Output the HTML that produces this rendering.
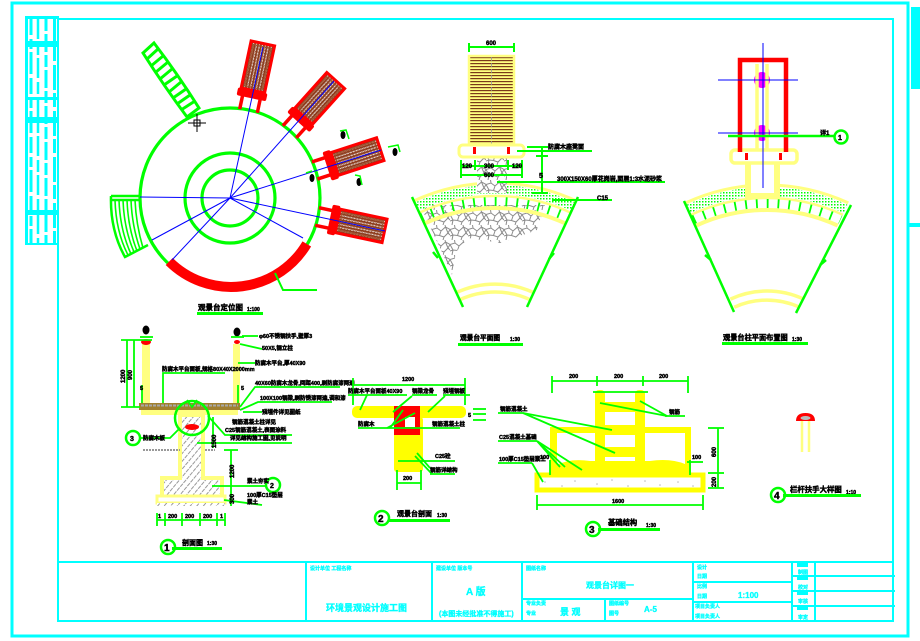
<!DOCTYPE html>
<html><head><meta charset="utf-8"><style>
html,body{margin:0;padding:0;background:#fff;}
svg{display:block;}
text{font-family:"Liberation Sans","Noto Sans CJK SC",sans-serif;font-weight:bold;}
.k{stroke:#000;stroke-width:0.45;}
.c{stroke:#0ff;stroke-width:0.3;}
</style></head><body>
<svg width="920" height="641" viewBox="0 0 920 641" xmlns="http://www.w3.org/2000/svg">
<defs>
 <pattern id="dots" width="3" height="3" patternUnits="userSpaceOnUse"><rect width="3" height="3" fill="#fff"/><rect width="1.5" height="1.5" fill="#0f0"/></pattern>
 <pattern id="hatch" width="5" height="5" patternUnits="userSpaceOnUse" patternTransform="rotate(40)"><rect width="5" height="5" fill="#fff"/><line x1="1" y1="0" x2="1" y2="5" stroke="#999" stroke-width="1" stroke-dasharray="2 1"/></pattern>
 <pattern id="bench" width="3" height="3" patternUnits="userSpaceOnUse"><rect width="3" height="3" fill="#fff"/><path d="M0 0.6 L0.75 2.3 L1.5 0.6 L2.25 2.3 L3 0.6" stroke="#8b3a1a" stroke-width="1.1" fill="none"/></pattern>
 <pattern id="stone" width="18" height="15" patternUnits="userSpaceOnUse"><rect width="18" height="15" fill="#fff"/><path d="M0 4.5 L5 3 L9 6 L13.5 2 L18 4.5 M5 3 L4.5 0 M13.5 2 L13 0 M9 6 L7.5 10.5 L3 10 L0 11 M7.5 10.5 L12 12 L16 8 L18 10 M13.5 2 L16 8 M3 10 L2 15 M12 12 L11 15 M0 4.5 L3 10 M18 4.5 L16 8" stroke="#8c8c8c" stroke-width="1" fill="none"/></pattern>
 <pattern id="brown" width="3" height="3" patternUnits="userSpaceOnUse"><rect width="3" height="3" fill="#ffff80"/><rect y="0" width="3" height="1.2" fill="#7a3a1a"/></pattern>
 <g id="bn">
  <line x1="89" y1="-9" x2="106" y2="-9" stroke="#f00" stroke-width="3.5"/>
  <line x1="89" y1="9" x2="106" y2="9" stroke="#f00" stroke-width="3.5"/>
  <rect x="102" y="-15" width="8" height="30" rx="2" fill="#f00"/>
  <rect x="110" y="-12" width="48" height="24" fill="url(#bench)" stroke="#f00" stroke-width="3"/>
  <rect x="113" y="-9" width="42" height="18" fill="none" stroke="#a0522d" stroke-width="1"/>
 </g>
</defs>
<rect width="920" height="641" fill="#fff"/>

<!-- ===== FRAME ===== -->
<g stroke="#0ff" fill="none">
 <rect x="12" y="3" width="896" height="633" stroke-width="3"/>
 <rect x="58" y="19" width="835" height="602" stroke-width="2"/>
</g>
<rect x="911" y="7" width="9" height="82" fill="#0ff"/>
<rect x="909" y="223" width="11" height="4" fill="#0ff"/>
<!-- left strip -->
<g fill="#0ff">
 <rect x="25" y="16" width="34" height="3"/>
 <rect x="25" y="16" width="3" height="229"/>
 <rect x="25" y="243" width="34" height="2"/>
 <rect x="28" y="41" width="30" height="6"/>
 <rect x="28" y="97" width="30" height="3"/>
 <rect x="28" y="117" width="30" height="6"/>
 <rect x="28" y="210" width="30" height="5"/>
</g>
<g stroke="#0ff" fill="none">
 <line x1="31" y1="19" x2="31" y2="243" stroke-width="3" stroke-dasharray="16 4 10 3 22 4"/>
 <line x1="38" y1="19" x2="38" y2="243" stroke-width="2.5" stroke-dasharray="20 4 12 3"/>
 <line x1="46" y1="19" x2="46" y2="243" stroke-width="3" stroke-dasharray="12 3 18 3"/>
 <line x1="54.5" y1="19" x2="54.5" y2="243" stroke-width="3" stroke-dasharray="25 3 14 4"/>
</g>

<!-- ===== PLAN (定位图) ===== -->
<g stroke="#0f0" stroke-width="3" fill="none">
 <path d="M143,53 L154,43 Q177,73 199,108 L187,117 Q164,86 143,53 Z"/>
 <line x1="147" y1="59" x2="158" y2="49"/>
 <line x1="151" y1="66" x2="163" y2="56"/>
 <line x1="156" y1="72" x2="168" y2="62"/>
 <line x1="160" y1="79" x2="172" y2="69"/>
 <line x1="164" y1="85" x2="177" y2="76"/>
 <line x1="169" y1="92" x2="181" y2="82"/>
 <line x1="173" y1="98" x2="186" y2="89"/>
 <line x1="177" y1="104" x2="190" y2="95"/>
 <line x1="181" y1="110" x2="195" y2="101"/>
</g>
<g stroke="#0f0" fill="none">
 <path d="M111,196 L139,196 M111,200 L139,200 M111,196 Q110,230 125,257 L148,245" stroke-width="2.5"/>
 <path d="M115,200 Q116,232 128,255 M119,200 Q120,230 131,254 M123,200 Q124,229 134,252 M127,200 Q128,228 137,251 M131,200 Q132,226 140,249 M135,200 Q136,224 143,248" stroke-width="1.6"/>
</g>
<g stroke="#0f0" stroke-width="3.2" fill="none">
 <circle cx="230" cy="198" r="90"/>
 <circle cx="230" cy="198" r="45"/>
 <circle cx="230" cy="198" r="28"/>
</g>
<path d="M306.8,243.9 A88,88 0 0 1 169.2,261.5" stroke="#f00" stroke-width="10" fill="none"/>
<path d="M275,273 L283,290 L317,290" stroke="#0f0" stroke-width="2" fill="none"/>
<use href="#bn" transform="translate(230 198) rotate(-78)"/>
<use href="#bn" transform="translate(230 198) rotate(-48)"/>
<use href="#bn" transform="translate(230 198) rotate(-18)"/>
<use href="#bn" transform="translate(230 198) rotate(12)"/>
<g stroke="#00f" stroke-width="1" fill="none">
 <line x1="230" y1="198" x2="263" y2="47"/>
 <line x1="230" y1="198" x2="334" y2="81"/>
 <line x1="230" y1="198" x2="381" y2="150"/>
 <line x1="230" y1="198" x2="385" y2="231"/>
 <line x1="230" y1="198" x2="303" y2="238"/>
 <line x1="230" y1="198" x2="172" y2="260"/>
 <line x1="230" y1="198" x2="152" y2="240"/>
 <line x1="230" y1="198" x2="140" y2="197"/>
</g>
<g stroke="#000" stroke-width="1" fill="none">
 <rect x="194" y="120" width="6" height="6"/>
 <line x1="188" y1="123" x2="206" y2="123"/>
 <line x1="197" y1="114" x2="197" y2="132"/>
</g>
<g fill="#000">
 <ellipse cx="343" cy="135" rx="2.5" ry="4"/>
 <ellipse cx="395" cy="152" rx="2.5" ry="4"/>
 <ellipse cx="312" cy="178" rx="2.5" ry="4"/>
 <ellipse cx="359" cy="182" rx="2.5" ry="4"/>
</g>
<g stroke="#0f0" stroke-width="1.5" fill="none">
 <path d="M340,131 L346,130 L349,139"/>
 <path d="M388,147 L398,145 L400,152"/>
 <path d="M306,173 L312,171"/>
 <path d="M355,175 L360,176 L362,185"/>
</g>
<text class="k" x="198" y="310" font-size="7.5" fill="#000">观景台定位图</text>
<text class="k" x="247" y="311" font-size="5" fill="#000">1:100</text>
<rect x="197" y="312" width="66" height="3" fill="#0f0"/>

<!-- ===== LEFT FAN ===== -->
<path d="M420,205 L545,205 L537,230 L500,243 L468,238 L456,252 L452,275 L441,250 Z" fill="url(#stone)"/>
<path d="M416.5,206.8 A186.5,186.5 0 0 1 573.5,206.8" stroke="#fff" stroke-width="8" fill="none"/>
<path d="M413.7,200.9 A193,193 0 0 1 576.3,200.9" stroke="#ffff80" stroke-width="3" fill="none"/>
<path d="M416.5,206.8 A186.5,186.5 0 0 1 573.5,206.8" stroke="url(#dots)" stroke-width="9" fill="none"/>
<path d="M419.2,212.7 A180,180 0 0 1 570.8,212.7" stroke="#ffff80" stroke-width="2.5" fill="none"/>
<path d="M421.5,217.7 A174.5,174.5 0 0 1 568.5,217.7" stroke="#0f0" stroke-width="9" stroke-dasharray="1.8 9" fill="none"/>
<path d="M424.3,223.6 A168,168 0 0 1 565.7,223.6" stroke="#ffff80" stroke-width="4" fill="none"/>
<path d="M456.3,292.6 A92,92 0 0 1 533.7,292.6" stroke="#ffff80" stroke-width="3.5" fill="none"/>
<path d="M459.6,299.8 A84,84 0 0 1 530.4,299.8" stroke="#ffff80" stroke-width="3.5" fill="none"/>
<g stroke="#0f0" stroke-width="2.5">
 <line x1="412" y1="197" x2="463" y2="307"/>
 <line x1="578" y1="197" x2="527" y2="307"/>
 <line x1="433" y1="252" x2="438" y2="258"/>
 <line x1="554" y1="253" x2="549" y2="259"/>
</g>
<rect x="477" y="157" width="30" height="36" fill="url(#stone)"/>
<rect x="469" y="56" width="45" height="91" fill="url(#brown)" stroke="#ffff80" stroke-width="2.5"/>
<line x1="491.5" y1="57" x2="491.5" y2="146" stroke="#999" stroke-width="0.8" stroke-dasharray="4 2"/>
<rect x="459" y="145" width="65" height="12" rx="4" fill="#fff" stroke="#ffff80" stroke-width="3"/>
<rect x="473" y="147" width="3" height="7" fill="#f00"/>
<rect x="507" y="147" width="3" height="7" fill="#f00"/>
<g stroke="#0f0" stroke-width="2" fill="none">
 <line x1="468" y1="47" x2="515" y2="47"/>
 <line x1="469" y1="43" x2="469" y2="52"/>
 <line x1="514" y1="43" x2="514" y2="52"/>
 <line x1="460" y1="166" x2="523" y2="166"/>
 <line x1="460" y1="175" x2="523" y2="175"/>
 <line x1="461" y1="160" x2="461" y2="178"/>
 <line x1="475" y1="160" x2="475" y2="170"/>
 <line x1="508" y1="160" x2="508" y2="170"/>
 <line x1="522" y1="160" x2="522" y2="178"/>
 <line x1="527" y1="147" x2="548" y2="147"/>
 <line x1="517" y1="151" x2="592" y2="151"/>
 <line x1="542" y1="147" x2="542" y2="193"/>
 <line x1="536" y1="156" x2="548" y2="156"/>
 <line x1="532" y1="193" x2="548" y2="193"/>
 <line x1="497" y1="182" x2="665" y2="182"/>
 <line x1="552" y1="200" x2="612" y2="200"/>
</g>
<g class="k" fill="#000" font-size="6">
 <text x="486" y="45">600</text>
 <text x="462" y="168">120</text>
 <text x="484" y="168">300</text>
 <text x="512" y="168">120</text>
 <text x="484" y="177">600</text>
 <text x="548" y="149">防腐木座凳面</text>
 <text x="539" y="178" font-size="7">5</text>
 <text x="557" y="181">300X150X60厚花岗岩,面层1:3水泥砂浆</text>
 <text x="597" y="200">C15</text>
</g>
<text class="k" x="460" y="340" font-size="6.7" fill="#000">观景台平面图</text>
<text class="k" x="510" y="341" font-size="5" fill="#000">1:30</text>
<rect x="458" y="343" width="65" height="3" fill="#0f0"/>

<!-- ===== RIGHT FAN ===== -->
<path d="M688.5,208.8 A186.5,186.5 0 0 1 845.5,208.8" stroke="#fff" stroke-width="8" fill="none"/>
<path d="M685.7,202.9 A193,193 0 0 1 848.3,202.9" stroke="#ffff80" stroke-width="3" fill="none"/>
<path d="M688.5,208.8 A186.5,186.5 0 0 1 845.5,208.8" stroke="url(#dots)" stroke-width="9" fill="none"/>
<path d="M691.2,214.7 A180,180 0 0 1 842.8,214.7" stroke="#ffff80" stroke-width="2.5" fill="none"/>
<path d="M693.5,219.7 A174.5,174.5 0 0 1 840.5,219.7" stroke="#0f0" stroke-width="9" stroke-dasharray="1.8 9" fill="none"/>
<path d="M696.3,225.6 A168,168 0 0 1 837.7,225.6" stroke="#ffff80" stroke-width="4" fill="none"/>
<path d="M730.4,299.1 A87,87 0 0 1 803.6,299.1" stroke="#ffff80" stroke-width="3.5" fill="none"/>
<path d="M734.2,307.3 A78,78 0 0 1 799.8,307.3" stroke="#ffff80" stroke-width="3.5" fill="none"/>
<g stroke="#0f0" stroke-width="2.5">
 <line x1="684" y1="201" x2="734" y2="312"/>
 <line x1="851" y1="205" x2="796" y2="313"/>
 <line x1="705" y1="255" x2="711" y2="260"/>
 <line x1="826" y1="260" x2="820" y2="265"/>
</g>
<rect x="748" y="161" width="29" height="35" fill="#fff" stroke="#ffff80" stroke-width="6"/>
<rect x="731" y="150" width="66" height="13" rx="4" fill="#fff" stroke="#ffff80" stroke-width="3.5"/>
<rect x="745" y="153" width="3" height="7" fill="#f00"/>
<rect x="779" y="153" width="3" height="7" fill="#f00"/>
<ellipse cx="762" cy="80" rx="8" ry="8" fill="#f0f"/>
<ellipse cx="762" cy="133" rx="8" ry="8" fill="#f0f"/>
<path d="M740,152 L740,60 L786,60 L786,152" stroke="#f00" stroke-width="4.5" fill="none"/>
<line x1="757" y1="64" x2="757" y2="150" stroke="#ffff80" stroke-width="3.5"/>
<line x1="767" y1="64" x2="767" y2="150" stroke="#ffff80" stroke-width="3.5"/>
<g stroke="#00f" stroke-width="1">
 <line x1="718" y1="80" x2="798" y2="80"/>
 <line x1="718" y1="133" x2="798" y2="133"/>
 <line x1="763" y1="43" x2="763" y2="188"/>
</g>
<line x1="728" y1="136" x2="835" y2="136" stroke="#0f0" stroke-width="2.5"/>
<circle cx="841" cy="137" r="6.5" fill="#fff" stroke="#0f0" stroke-width="2.5"/>
<text class="k" x="820" y="135" font-size="6" fill="#000">详1</text>
<text class="k" x="838" y="140" font-size="7" fill="#000">1</text>
<text class="k" x="723" y="340" font-size="7.2" fill="#000">观景台柱平面布置图</text>
<text class="k" x="792" y="341" font-size="5" fill="#000">1:30</text>
<rect x="722" y="342" width="86" height="3" fill="#0f0"/>

<!-- ===== SECTION 1 ===== -->
<rect x="142" y="344" width="8" height="61" fill="#ffff80"/>
<rect x="233" y="344" width="7" height="61" fill="#ffff80"/>
<ellipse cx="146" cy="342" rx="5" ry="3" fill="#f00"/>
<ellipse cx="237" cy="342" rx="3" ry="2" fill="#f00"/>
<ellipse cx="146" cy="330" rx="3.5" ry="4.5" fill="#000"/>
<ellipse cx="237" cy="332" rx="3.5" ry="4.5" fill="#000"/>
<rect x="139" y="403" width="101" height="7" fill="#a08030"/>
<line x1="141" y1="405.5" x2="238" y2="405.5" stroke="#a8a8a8" stroke-width="2" stroke-dasharray="3 1"/>
<rect x="141" y="410" width="97" height="5" fill="#ffff80"/>
<path d="M180,415 L180,478 L162,478 L162,497 L222,497 L222,478 L203,478 L203,415 Z" fill="url(#hatch)" stroke="#ffff80" stroke-width="4"/>
<rect x="157" y="496" width="68" height="7" fill="#fff" stroke="#ffff80" stroke-width="3"/>
<rect x="157" y="503" width="68" height="3" fill="url(#hatch)"/>
<line x1="143" y1="450" x2="180" y2="450" stroke="#999" stroke-width="2" stroke-dasharray="2 1"/>
<line x1="205" y1="450" x2="215" y2="450" stroke="#999" stroke-width="2" stroke-dasharray="2 1"/>
<ellipse cx="192" cy="427" rx="7" ry="3" fill="#f00"/>
<g stroke="#0f0" stroke-width="1.8" fill="none">
 <circle cx="192" cy="418" r="17" stroke-width="2.5"/>
 <path d="M187,400 L192,407 L197,400"/>
 <line x1="127" y1="340" x2="127" y2="407"/>
 <line x1="134" y1="340" x2="134" y2="407"/>
 <line x1="121" y1="340" x2="152" y2="340"/>
 <line x1="121" y1="407" x2="140" y2="407"/>
 <line x1="140" y1="337" x2="153" y2="337"/>
 <line x1="231" y1="337" x2="244" y2="337"/>
 <line x1="142" y1="385" x2="142" y2="403"/>
 <line x1="238" y1="385" x2="238" y2="403"/>
 <line x1="242" y1="336" x2="258" y2="336"/>
 <path d="M240,344 L262,349"/>
 <line x1="238" y1="363" x2="255" y2="363"/>
 <path d="M163,403 L163,373 L225,373"/>
 <path d="M240,407 L255,387 L340,387"/>
 <path d="M240,410 L258,402 L332,402"/>
 <line x1="243" y1="412" x2="262" y2="412"/>
 <path d="M208,416 L225,435 L292,435"/>
 <line x1="197" y1="443" x2="292" y2="443"/>
 <line x1="213" y1="417" x2="213" y2="448"/>
 <line x1="231" y1="450" x2="231" y2="506"/>
 <line x1="224" y1="450" x2="238" y2="450"/>
 <line x1="212" y1="486" x2="266" y2="486"/>
 <path d="M224,500 L262,505"/>
 <path d="M140,438 L170,438 L180,428"/>
 <line x1="157" y1="520" x2="225" y2="520"/>
 <line x1="157" y1="513" x2="157" y2="526"/>
 <line x1="165" y1="513" x2="165" y2="526"/>
 <line x1="182" y1="513" x2="182" y2="526"/>
 <line x1="200" y1="513" x2="200" y2="526"/>
 <line x1="217" y1="513" x2="217" y2="526"/>
 <line x1="225" y1="513" x2="225" y2="526"/>
</g>
<circle cx="273" cy="485" r="7" fill="#fff" stroke="#0f0" stroke-width="2.5"/>
<circle cx="133" cy="438" r="7" fill="#fff" stroke="#0f0" stroke-width="2.5"/>
<g class="k" fill="#000" font-size="5.5">
 <text x="259" y="338">φ60不锈钢扶手,壁厚3</text>
 <text x="262" y="350">50X5,钢立柱</text>
 <text x="255" y="365">防腐木平台,厚40X90</text>
 <text x="162" y="371">防腐木平台面板,规格80X40X2000mm</text>
 <text x="255" y="385">40X60防腐木龙骨,间距400,刷防腐漆两遍</text>
 <text x="260" y="400">100X100钢梁,刷防锈漆两遍,调和漆</text>
 <text x="262" y="414">预埋件详见图纸</text>
 <text x="232" y="424">钢筋混凝土柱详见</text>
 <text x="225" y="432">C25钢筋混凝土,表面涂料</text>
 <text x="230" y="440">详见结构施工图,见说明</text>
 <text x="247" y="483">素土夯实</text>
 <text x="247" y="497">100厚C15垫层</text>
 <text x="247" y="504">素土</text>
 <text x="143" y="440">防腐木板</text>
 <text x="158" y="518">1</text>
 <text x="168" y="518">200</text>
 <text x="185" y="518">200</text>
 <text x="203" y="518">200</text>
 <text x="220" y="518">1</text>
 <text x="140" y="390">5</text>
 <text x="241" y="390">5</text>
</g>
<text class="k" transform="translate(125 383) rotate(-90)" font-size="6" fill="#000">1200</text>
<text class="k" transform="translate(132 380) rotate(-90)" font-size="6" fill="#000">900</text>
<text class="k" transform="translate(216 448) rotate(-90)" font-size="6" fill="#000">1500</text>
<text class="k" transform="translate(234 478) rotate(-90)" font-size="6" fill="#000">1200</text>
<text class="k" transform="translate(234 504) rotate(-90)" font-size="6" fill="#000">300</text>
<text class="k" x="130" y="441" font-size="7" fill="#000">3</text>
<text class="k" x="270" y="488" font-size="7" fill="#000">2</text>
<circle cx="168" cy="547" r="7" fill="#fff" stroke="#0f0" stroke-width="2.5"/>
<text class="k" x="164" y="551" font-size="10" fill="#000">1</text>
<text class="k" x="182" y="545" font-size="7" fill="#000">剖面图</text>
<text class="k" x="207" y="545" font-size="5" fill="#000">1:30</text>
<rect x="172" y="547" width="50" height="3" fill="#0f0"/>

<!-- ===== SECTION 2 ===== -->
<rect x="352" y="406" width="114" height="12" rx="5" fill="#ff0"/>
<rect x="394" y="417" width="29" height="55" rx="3" fill="#ff0"/>
<rect x="394" y="406" width="26" height="29" fill="#f00"/>
<rect x="405" y="417" width="10" height="10" fill="#fff"/>
<g stroke="#0f0" stroke-width="1.8" fill="none">
 <line x1="353" y1="385" x2="465" y2="385"/>
 <line x1="353" y1="378" x2="353" y2="405"/>
 <line x1="465" y1="378" x2="465" y2="405"/>
 <line x1="348" y1="395" x2="407" y2="395"/>
 <line x1="367" y1="395" x2="360" y2="410"/>
 <line x1="412" y1="395" x2="437" y2="395"/>
 <line x1="412" y1="396" x2="393" y2="412"/>
 <line x1="443" y1="395" x2="470" y2="395"/>
 <line x1="445" y1="396" x2="428" y2="412"/>
 <line x1="358" y1="428" x2="460" y2="428"/>
 <line x1="387" y1="428" x2="415" y2="413"/>
 <line x1="390" y1="428" x2="403" y2="410"/>
 <line x1="398" y1="461" x2="455" y2="461"/>
 <line x1="417" y1="453" x2="430" y2="468"/>
 <line x1="430" y1="474" x2="455" y2="474"/>
 <line x1="415" y1="456" x2="432" y2="474"/>
 <line x1="397" y1="483" x2="421" y2="483"/>
 <line x1="397" y1="470" x2="397" y2="490"/>
 <line x1="421" y1="470" x2="421" y2="490"/>
 <line x1="473" y1="409" x2="486" y2="409"/>
 <line x1="473" y1="414" x2="486" y2="414"/>
 <line x1="473" y1="420" x2="486" y2="420"/>
</g>
<g class="k" fill="#000" font-size="5.5">
 <text x="402" y="381">1200</text>
 <text x="348" y="393">防腐木平台面板40X90</text>
 <text x="412" y="393">钢梁龙骨</text>
 <text x="443" y="393">预埋钢板</text>
 <text x="358" y="426">防腐木</text>
 <text x="432" y="426">钢筋混凝土柱</text>
 <text x="435" y="458">C25砼</text>
 <text x="430" y="472">钢筋详结构</text>
 <text x="403" y="480">200</text>
 <text x="468" y="417">5</text>
</g>
<circle cx="382" cy="518" r="7" fill="#fff" stroke="#0f0" stroke-width="2.5"/>
<text class="k" x="378" y="522" font-size="10" fill="#000">2</text>
<text class="k" x="397" y="516" font-size="7" fill="#000">观景台剖面</text>
<text class="k" x="437" y="517" font-size="5" fill="#000">1:30</text>
<rect x="389" y="519" width="61" height="3" fill="#0f0"/>

<!-- ===== SECTION 3 ===== -->
<g fill="#ff0">
 <rect x="550" y="427" width="141" height="6"/>
 <rect x="550" y="427" width="7" height="46"/>
 <rect x="685" y="427" width="6" height="46"/>
 <rect x="595" y="390" width="10" height="80" rx="4"/>
 <rect x="635" y="390" width="10" height="80" rx="4"/>
 <rect x="605" y="402" width="30" height="10"/>
 <rect x="605" y="425" width="30" height="10"/>
 <rect x="605" y="447" width="30" height="10"/>
 <path d="M557,473 L557,465 Q570,458 590,461 L595,461 L650,461 Q670,458 685,464 L685,473 Z"/>
</g>
<rect x="537" y="475" width="166" height="15" fill="#fff" stroke="#ff0" stroke-width="5"/>
<g fill="#bbb">
 <circle cx="545" cy="482" r="0.8"/><circle cx="562" cy="486" r="0.8"/><circle cx="575" cy="481" r="0.8"/>
 <circle cx="597" cy="484" r="0.8"/><circle cx="612" cy="480" r="0.8"/><circle cx="628" cy="486" r="0.8"/>
 <circle cx="645" cy="481" r="0.8"/><circle cx="660" cy="485" r="0.8"/><circle cx="678" cy="482" r="0.8"/>
 <circle cx="693" cy="486" r="0.8"/>
</g>
<g stroke="#0f0" stroke-width="1.8" fill="none">
 <line x1="552" y1="381" x2="688" y2="381"/>
 <line x1="552" y1="376" x2="552" y2="393"/>
 <line x1="597" y1="376" x2="597" y2="386"/>
 <line x1="643" y1="376" x2="643" y2="386"/>
 <line x1="688" y1="376" x2="688" y2="393"/>
 <line x1="593" y1="392" x2="648" y2="392"/>
 <line x1="537" y1="505" x2="703" y2="505"/>
 <line x1="537" y1="495" x2="537" y2="510"/>
 <line x1="703" y1="495" x2="703" y2="510"/>
 <line x1="718" y1="428" x2="718" y2="488"/>
 <line x1="708" y1="428" x2="724" y2="428"/>
 <line x1="708" y1="473" x2="724" y2="473"/>
 <line x1="708" y1="488" x2="724" y2="488"/>
 <line x1="687" y1="462" x2="703" y2="462"/>
 <line x1="690" y1="460" x2="690" y2="475"/>
 <line x1="550" y1="460" x2="550" y2="475"/>
 <line x1="498" y1="413" x2="523" y2="413"/>
 <line x1="523" y1="413" x2="612" y2="430"/>
 <line x1="523" y1="413" x2="615" y2="453"/>
 <line x1="498" y1="441" x2="537" y2="441"/>
 <line x1="537" y1="441" x2="560" y2="467"/>
 <line x1="537" y1="441" x2="565" y2="467"/>
 <line x1="537" y1="441" x2="582" y2="470"/>
 <line x1="498" y1="463" x2="532" y2="463"/>
 <line x1="532" y1="463" x2="543" y2="482"/>
 <line x1="665" y1="416" x2="685" y2="416"/>
 <line x1="667" y1="416" x2="600" y2="403"/>
 <line x1="667" y1="416" x2="640" y2="401"/>
</g>
<g class="k" fill="#000" font-size="5.5">
 <text x="569" y="378">200</text>
 <text x="614" y="378">200</text>
 <text x="659" y="378">200</text>
 <text x="612" y="503">1600</text>
 <text x="500" y="411">钢筋混凝土</text>
 <text x="499" y="439">C25混凝土基础</text>
 <text x="499" y="461">100厚C15垫层素土</text>
 <text x="669" y="414">钢筋</text>
 <text x="540" y="459">100</text>
 <text x="692" y="459">100</text>
</g>
<text class="k" transform="translate(716 457) rotate(-90)" font-size="6" fill="#000">600</text>
<text class="k" transform="translate(716 487) rotate(-90)" font-size="6" fill="#000">200</text>
<circle cx="593" cy="529" r="7" fill="#fff" stroke="#0f0" stroke-width="2.5"/>
<text class="k" x="589" y="533" font-size="10" fill="#000">3</text>
<text class="k" x="608" y="525" font-size="7.3" fill="#000">基础结构</text>
<text class="k" x="646" y="527" font-size="5" fill="#000">1:30</text>
<rect x="598" y="528" width="62" height="3" fill="#0f0"/>

<!-- ===== SECTION 4 ===== -->
<line x1="802" y1="420" x2="802" y2="452" stroke="#ffff80" stroke-width="2.5"/>
<line x1="809" y1="420" x2="809" y2="452" stroke="#ffff80" stroke-width="2.5"/>
<path d="M796,421 Q796,413 805.5,413 Q815,413 815,421 Z" fill="#f00"/>
<ellipse cx="805.5" cy="418" rx="5" ry="2" fill="#bbb"/>
<circle cx="778" cy="495" r="7" fill="#fff" stroke="#0f0" stroke-width="2.5"/>
<text class="k" x="774" y="499" font-size="10" fill="#000">4</text>
<text class="k" x="790" y="492" font-size="7.4" fill="#000">栏杆扶手大样图</text>
<text class="k" x="846" y="494" font-size="5" fill="#000">1:10</text>
<rect x="783" y="494" width="78" height="3" fill="#0f0"/>

<!-- ===== TITLE BLOCK ===== -->
<g stroke="#0ff" stroke-width="2" fill="none">
 <line x1="58" y1="562" x2="893" y2="562"/>
 <line x1="306" y1="562" x2="306" y2="621"/>
 <line x1="432" y1="562" x2="432" y2="621"/>
 <line x1="522" y1="562" x2="522" y2="621"/>
 <line x1="693" y1="562" x2="693" y2="621"/>
 <line x1="792" y1="562" x2="792" y2="621"/>
 <line x1="815" y1="562" x2="815" y2="621"/>
 <line x1="605" y1="599" x2="605" y2="621"/>
 <line x1="522" y1="599" x2="693" y2="599"/>
 <line x1="693" y1="582" x2="792" y2="582"/>
 <line x1="693" y1="602" x2="792" y2="602"/>
 <line x1="792" y1="576" x2="895" y2="576"/>
 <line x1="792" y1="591" x2="895" y2="591"/>
 <line x1="792" y1="606" x2="895" y2="606"/>
</g>
<g fill="#0ff">
 <rect x="797" y="563" width="11" height="4"/>
 <rect x="797" y="577" width="11" height="3"/>
 <rect x="797" y="592" width="11" height="3"/>
 <rect x="797" y="607" width="11" height="3"/>
</g>
<g class="c" fill="#0ff" font-size="5">
 <text x="310" y="570">设计单位 工程名称</text>
 <text x="436" y="570">建设单位 版本号</text>
 <text x="526" y="570">图纸名称</text>
 <text x="526" y="605">专业负责</text>
 <text x="526" y="615">专业</text>
 <text x="609" y="605">图纸编号</text>
 <text x="609" y="615">图号</text>
 <text x="697" y="569">设计</text>
 <text x="697" y="578">日期</text>
 <text x="697" y="588">比例</text>
 <text x="697" y="598">日期</text>
 <text x="695" y="608">项目负责人</text>
 <text x="695" y="618">项目负责人</text>
 <text x="798" y="574">制图</text>
 <text x="798" y="589">校对</text>
 <text x="798" y="603">审核</text>
 <text x="798" y="619">审定</text>
</g>
<text class="c" x="326" y="611" font-size="9" fill="#0ff">环境景观设计施工图</text>
<text class="c" x="466" y="595" font-size="10" fill="#0ff">A 版</text>
<text class="c" x="439" y="616" font-size="7" fill="#0ff">(本图未经批准不得施工)</text>
<text class="c" x="586" y="588" font-size="8" fill="#0ff">观景台详图一</text>
<text class="c" x="560" y="615" font-size="9" fill="#0ff">景 观</text>
<text class="c" x="644" y="612" font-size="8" fill="#0ff">A-5</text>
<text class="c" x="738" y="598" font-size="8" fill="#0ff">1:100</text>
</svg>
</body></html>
